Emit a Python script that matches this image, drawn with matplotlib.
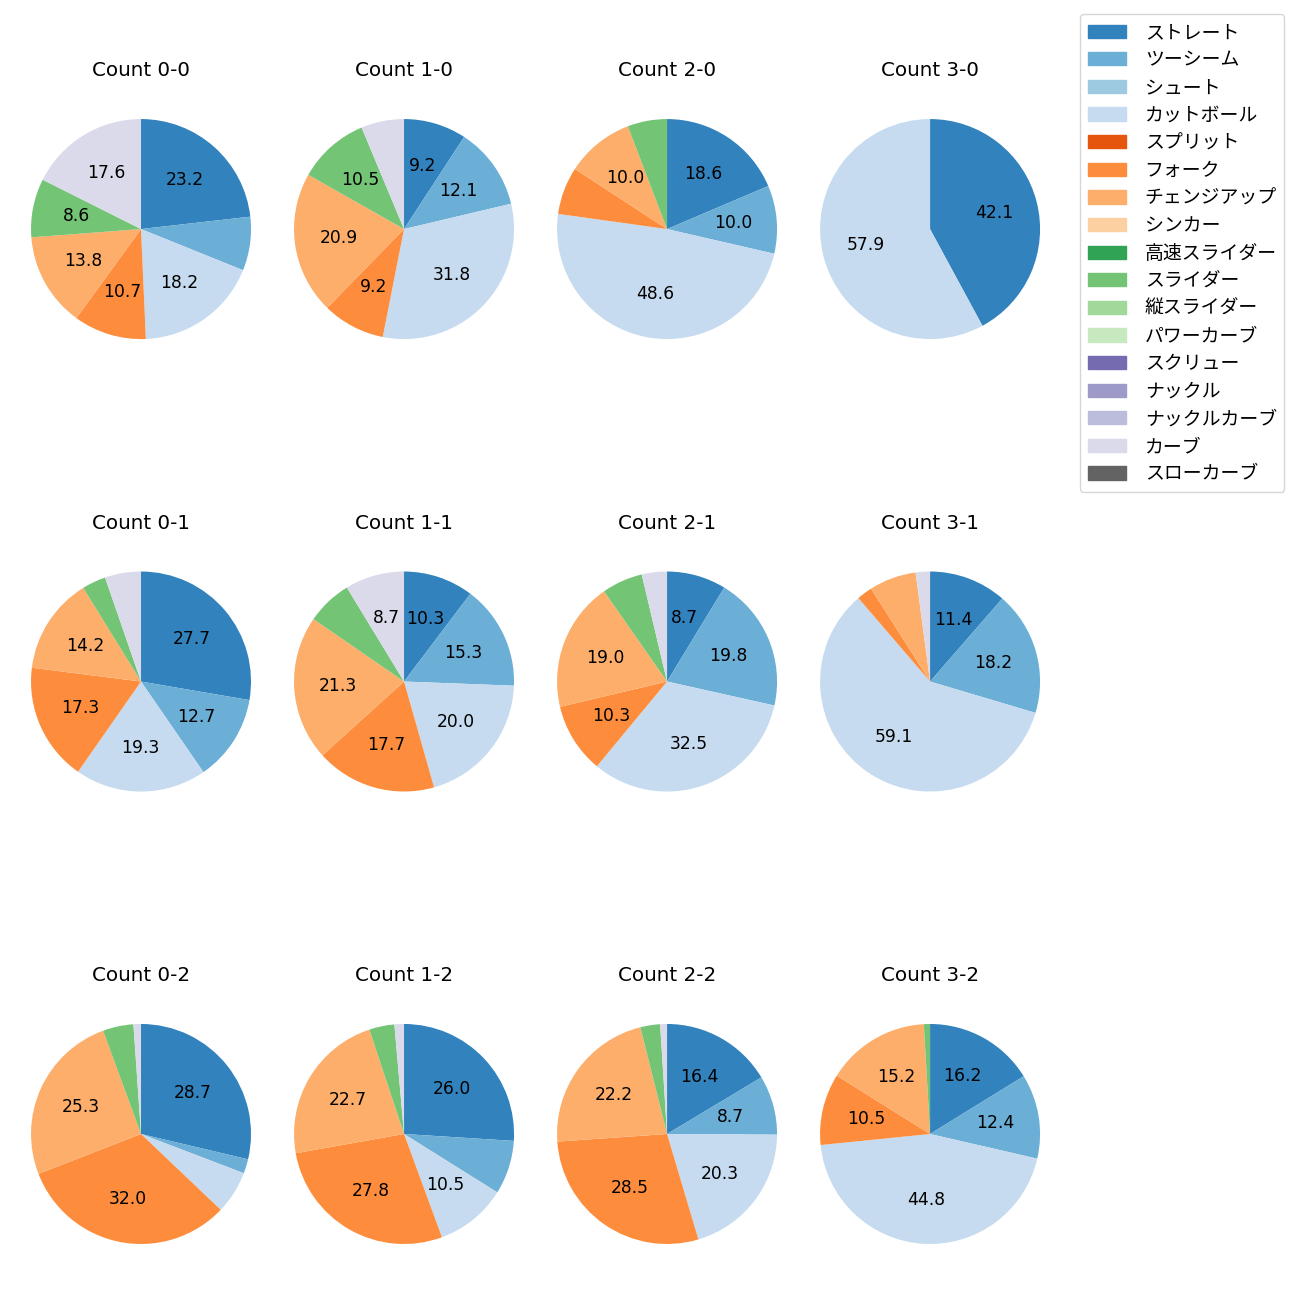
import numpy as np
import matplotlib
matplotlib.use("Agg")
import matplotlib.pyplot as plt
from matplotlib.patches import Patch

plt.rcParams['font.family'] = ['DejaVu Sans', 'Noto Sans CJK JP']

pitch_types = ['ストレート', 'ツーシーム', 'シュート', 'カットボール', 'スプリット', 'フォーク',
               'チェンジアップ', 'シンカー', '高速スライダー', 'スライダー', '縦スライダー',
               'パワーカーブ', 'スクリュー', 'ナックル', 'ナックルカーブ', 'カーブ', 'スローカーブ']

# shares (%) in legend order; only the pitches thrown in each count
count_0_0 = {'ストレート': 23.2, 'ツーシーム': 7.9, 'カットボール': 18.2, 'フォーク': 10.7,
             'チェンジアップ': 13.8, 'スライダー': 8.6, 'カーブ': 17.6}
count_1_0 = {'ストレート': 9.2, 'ツーシーム': 12.1, 'カットボール': 31.8, 'フォーク': 9.2,
             'チェンジアップ': 20.9, 'スライダー': 10.5, 'カーブ': 6.3}
count_2_0 = {'ストレート': 18.6, 'ツーシーム': 10.0, 'カットボール': 48.6, 'フォーク': 7.0,
             'チェンジアップ': 10.0, 'スライダー': 5.8}
count_3_0 = {'ストレート': 42.1, 'カットボール': 57.9}
count_0_1 = {'ストレート': 27.7, 'ツーシーム': 12.7, 'カットボール': 19.3, 'フォーク': 17.3,
             'チェンジアップ': 14.2, 'スライダー': 3.5, 'カーブ': 5.3}
count_1_1 = {'ストレート': 10.3, 'ツーシーム': 15.3, 'カットボール': 20.0, 'フォーク': 17.7,
             'チェンジアップ': 21.3, 'スライダー': 6.7, 'カーブ': 8.7}
count_2_1 = {'ストレート': 8.7, 'ツーシーム': 19.8, 'カットボール': 32.5, 'フォーク': 10.3,
             'チェンジアップ': 19.0, 'スライダー': 6.0, 'カーブ': 3.7}
count_3_1 = {'ストレート': 11.4, 'ツーシーム': 18.2, 'カットボール': 59.1, 'フォーク': 2.3,
             'チェンジアップ': 6.9, 'カーブ': 2.1}
count_0_2 = {'ストレート': 28.7, 'ツーシーム': 2.1, 'カットボール': 6.3, 'フォーク': 32.0,
             'チェンジアップ': 25.3, 'スライダー': 4.5, 'カーブ': 1.1}
count_1_2 = {'ストレート': 26.0, 'ツーシーム': 7.9, 'カットボール': 10.5, 'フォーク': 27.8,
             'チェンジアップ': 22.7, 'スライダー': 3.7, 'カーブ': 1.4}
count_2_2 = {'ストレート': 16.4, 'ツーシーム': 8.7, 'カットボール': 20.3, 'フォーク': 28.5,
             'チェンジアップ': 22.2, 'スライダー': 2.9, 'カーブ': 1.0}
count_3_2 = {'ストレート': 16.2, 'ツーシーム': 12.4, 'カットボール': 44.8, 'フォーク': 10.5,
             'チェンジアップ': 15.2, 'スライダー': 0.9}

counts = [['0-0', '1-0', '2-0', '3-0'],
          ['0-1', '1-1', '2-1', '3-1'],
          ['0-2', '1-2', '2-2', '3-2']]
data = {'0-0': count_0_0, '1-0': count_1_0, '2-0': count_2_0, '3-0': count_3_0,
        '0-1': count_0_1, '1-1': count_1_1, '2-1': count_2_1, '3-1': count_3_1,
        '0-2': count_0_2, '1-2': count_1_2, '2-2': count_2_2, '3-2': count_3_2}

cmap = plt.get_cmap('tab20c')
colors = {p: cmap(i) for i, p in enumerate(pitch_types)}

fig, axes = plt.subplots(3, 4, figsize=(13, 13), dpi=100)
fig.subplots_adjust(left=0.0027, right=0.8212, top=0.9392, bottom=0.0123,
                    wspace=-0.0436, hspace=0.508)

for r in range(3):
    for c in range(4):
        ax = axes[r, c]
        d = data[counts[r][c]]
        names = [p for p in pitch_types if p in d]
        vals = [d[p] for p in names]
        ax.pie(vals, colors=[colors[p] for p in names], startangle=90, counterclock=False,
               autopct=lambda pct: '%.1f' % pct if pct >= 8.3 else '',
               textprops={'fontsize': 12.3})
        ax.set_title('Count ' + counts[r][c], fontsize=14.3, pad=11)

handles = [Patch(color=colors[p], label=p) for p in pitch_types]
fig.legend(handles=handles, loc='upper right', bbox_to_anchor=(0.988, 0.989),
           borderaxespad=0, handletextpad=1.0, labelspacing=0.35,
           prop={'family': 'Noto Sans CJK JP', 'size': 13.6})

plt.savefig('out.png', dpi=100)
